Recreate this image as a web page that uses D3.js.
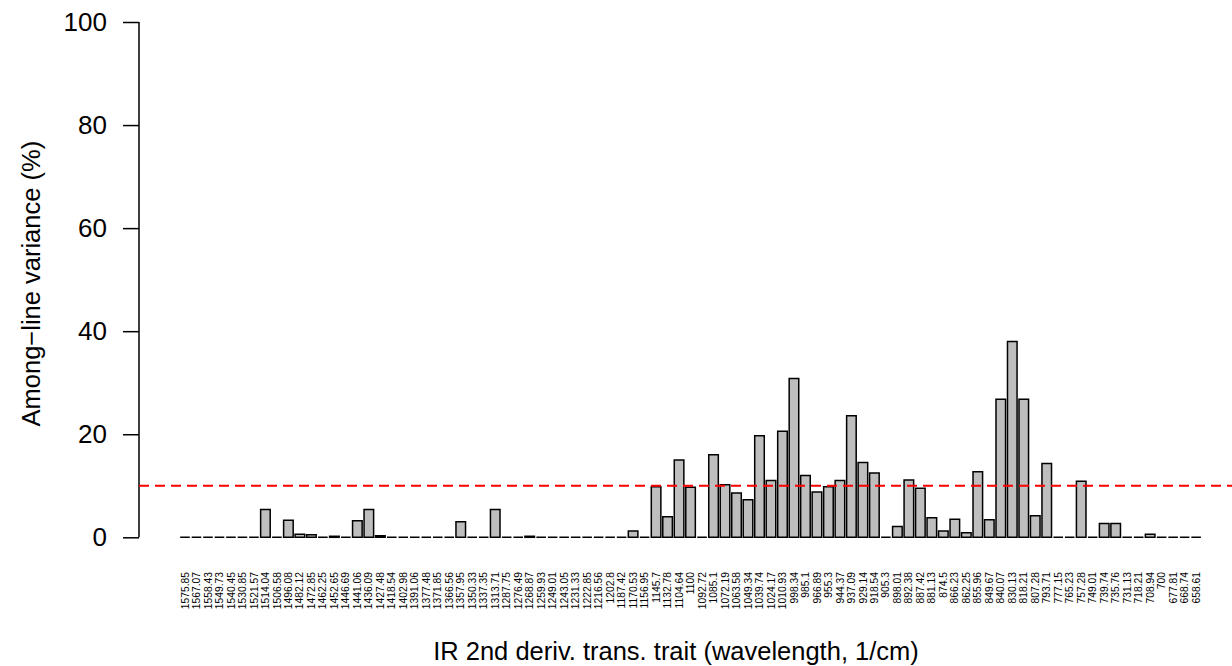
<!DOCTYPE html>
<html>
<head>
<meta charset="utf-8">
<script src="https://cdn.jsdelivr.net/npm/d3@7"></script>
<style>
  html, body { margin: 0; padding: 0; background: #fff; }
  svg { display: block; font-family: "Liberation Sans", Arial, Helvetica, sans-serif; }
</style>
</head>
<body>
<svg id="chart" width="1232" height="666"></svg>
<script>
// ---- data ----
const wavelengths = ["1575.85","1567.07","1558.43","1549.73","1540.45","1530.85","1521.57","1514.04","1506.58","1496.08",
  "1482.12","1472.85","1462.25","1452.65","1446.69","1441.06","1436.09","1427.48","1418.54","1402.98",
  "1391.06","1377.48","1371.85","1366.56","1357.95","1350.33","1337.35","1313.71","1287.75","1276.49",
  "1268.87","1259.93","1249.01","1243.05","1231.33","1222.85","1216.56","1202.8","1187.42","1170.53",
  "1156.95","1145.7","1132.78","1104.64","1100","1092.72","1085.1","1072.19","1063.58","1049.34",
  "1039.74","1024.17","1010.93","998.34","985.1","966.89","955.3","944.37","937.09","929.14",
  "918.54","905.3","898.01","892.38","887.42","881.13","874.5","866.23","862.25","855.96",
  "849.67","840.07","830.13","818.21","807.28","793.71","777.15","765.23","757.28","749.01",
  "739.74","735.76","731.13","718.21","708.94","700","677.81","668.74","658.61"];
const variancePct = [0,0,0,0,0,0,0,5.4,0,3.3,
  0.6,0.5,0,0.2,0,3.2,5.4,0.3,0,0,
  0,0,0,0,3.0,0,0,5.4,0,0,
  0.2,0,0,0,0,0,0,0,0,1.2,
  0,9.8,4.0,15.0,9.7,0,16.0,10.2,8.6,7.3,
  19.7,11.0,20.6,30.8,12.0,8.8,9.8,11.0,23.6,14.5,
  12.5,0,2.1,11.1,9.5,3.8,1.2,3.5,0.9,12.7,
  3.4,26.8,38.0,26.8,4.2,14.3,0,0,10.9,0,
  2.7,2.7,0,0,0.6,0,0,0,0];
const yTicks = [0, 20, 40, 60, 80, 100];
const threshold = 10;
const yLabel = "Among\u2212line variance (%)";
const xLabel = "IR 2nd deriv. trans. trait (wavelength, 1/cm)";

// ---- layout ----
const svg = d3.select("#chart");
const yBase = 537.3, yTop = 22;
const x = d3.scaleBand().domain(wavelengths).range([180.2, 1200.9]).paddingInner(1/6).paddingOuter(0);
const y = d3.scaleLinear().domain([0, 100]).range([yBase, yTop]);

// bars (as paths so zero-height bars still show their border)
svg.append("g").selectAll("path").data(wavelengths).join("path")
  .attr("d", (w, i) => {
    const x0 = x(w), x1 = x0 + x.bandwidth();
    const y0 = y(0), y1 = y(variancePct[i]);
    return `M${x0},${y0}V${y1}H${x1}V${y0}Z`;
  })
  .attr("fill", "#bebebe")
  .attr("stroke", "#000")
  .attr("stroke-width", 1.5)
  .attr("stroke-linejoin", "miter");

// y axis
const yAxis = d3.axisLeft(y).tickValues(yTicks).tickSize(16).tickPadding(16).tickFormat(d3.format("d"));
const gy = svg.append("g").attr("transform", "translate(139,0)").call(yAxis);
gy.select(".domain").attr("d", `M0,${y(100)}V${y(0)}`).attr("stroke-width", 1.5);
gy.selectAll(".tick line").attr("stroke-width", 1.5);
gy.selectAll(".tick text").attr("font-size", 26).attr("fill", "#000")
  .attr("font-family", "Liberation Sans, Arial, sans-serif");

// x tick labels (rotated)
const xAxis = d3.axisBottom(x).tickSize(0).tickPadding(0);
const gx = svg.append("g").attr("transform", "translate(0,572)").call(xAxis);
gx.select(".domain").remove();
gx.selectAll(".tick text")
  .attr("font-size", 10.3)
  .attr("fill", "#000")
  .attr("font-family", "Liberation Sans, Arial, sans-serif")
  .attr("transform", "rotate(-90)")
  .attr("x", 0).attr("y", 0).attr("dy", "0.35em")
  .attr("text-anchor", "end");

// threshold line
svg.append("line")
  .attr("x1", 139).attr("x2", 1232)
  .attr("y1", y(threshold)).attr("y2", y(threshold))
  .attr("stroke", "#ff0000").attr("stroke-width", 2)
  .attr("stroke-dasharray", "10,6");

// axis titles
svg.append("text")
  .attr("transform", `translate(40,${(yTop + yBase) / 2 + 4}) rotate(-90)`)
  .attr("text-anchor", "middle")
  .attr("font-size", 25.5)
  .text(yLabel);
svg.append("text")
  .attr("x", 676).attr("y", 660)
  .attr("text-anchor", "middle")
  .attr("font-size", 25.5)
  .text(xLabel);
</script>
</body>
</html>
